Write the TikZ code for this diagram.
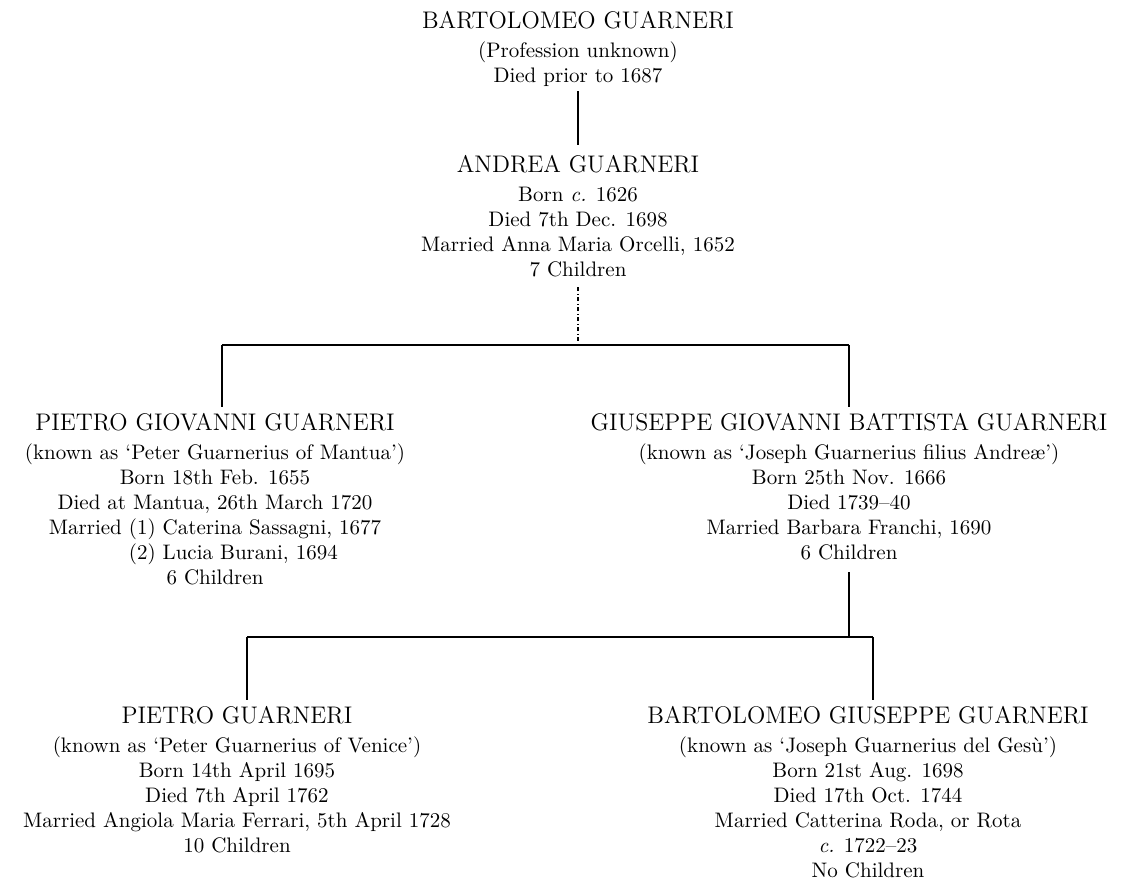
\documentclass[tikz,border=0pt]{standalone}
\usepackage{calc}
\usepackage{tikz}
\usetikzlibrary{positioning}

\tikzset{
  person/.style={align=center, inner sep=0pt, anchor=north,
    font=\fontsize{10.5}{12.5}\selectfont},
  descent/.style={line width=0.6pt},
  doubtful/.style={line width=0.6pt, dash pattern=on 2pt off 1.2pt on 0.6pt off 1.2pt},
}
\newcommand{\famname}[1]{{\fontsize{12}{14}\selectfont #1}\\[2pt]}

\begin{document}
\begin{tikzpicture}[x=0.5pt, y=-0.5pt]
    \useasboundingbox (0,0) rectangle (1146,885);

    % the generations
    \node[person] (bartolomeo) at (578,11) {\famname{BARTOLOMEO GUARNERI}
      (Profession unknown)\\
      Died prior to 1687};

    \node[person] (andrea) at (578,155) {\famname{ANDREA GUARNERI}
      Born \textit{c.} 1626\\
      Died 7th Dec. 1698\\
      Married Anna Maria Orcelli, 1652\\
      7 Children};

    \node[person] (pietroG) at (215,413) {\famname{PIETRO GIOVANNI GUARNERI}
      (known as `Peter Guarnerius of Mantua')\\
      Born 18th Feb. 1655\\
      Died at Mantua, 26th March 1720\\
      Married (1) Caterina Sassagni, 1677\\
      \makebox[\widthof{Married (1) Caterina Sassagni, 1677}][l]{\phantom{Married }(2) Lucia Burani, 1694}\\
      6 Children};

    \node[person] (giuseppe) at (849,413) {\famname{GIUSEPPE GIOVANNI BATTISTA GUARNERI}
      (known as `Joseph Guarnerius filius Andreæ')\\
      Born 25th Nov. 1666\\
      Died 1739--40\\
      Married Barbara Franchi, 1690\\
      6 Children};

    \node[person] (pietro) at (237,706) {\famname{PIETRO GUARNERI}
      (known as `Peter Guarnerius of Venice')\\
      Born 14th April 1695\\
      Died 7th April 1762\\
      Married Angiola Maria Ferrari, 5th April 1728\\
      10 Children};

    \node[person] (delgesu) at (868,706) {\famname{BARTOLOMEO GIUSEPPE GUARNERI}
      (known as `Joseph Guarnerius del Gesù')\\
      Born 21st Aug. 1698\\
      Died 17th Oct. 1744\\
      Married Catterina Roda, or Rota\\
      \textit{c.} 1722--23\\
      No Children};

    % the family lines
    \coordinate (barL) at (222,345);
    \coordinate (barR) at (849,345);
    \coordinate (bar2L) at (247,637);
    \coordinate (bar2R) at (873,637);

    \draw[descent] ([yshift=-2pt]bartolomeo.south) -- ([yshift=5pt]andrea.north);
    \draw[doubtful] ([yshift=-5pt]andrea.south) -- (andrea.south |- barL);
    \draw[descent] (barL) -- (barR);
    \draw[descent] (barL) -- ([yshift=3pt]barL |- pietroG.north);
    \draw[descent] (barR) -- ([yshift=3pt]barR |- giuseppe.north);

    \draw[descent] ([yshift=-6pt]giuseppe.south) -- (giuseppe.south |- bar2L);
    \draw[descent] (bar2L) -- (bar2R);
    \draw[descent] (bar2L) -- ([yshift=3pt]bar2L |- pietro.north);
    \draw[descent] (bar2R) -- ([yshift=3pt]bar2R |- delgesu.north);
\end{tikzpicture}
\end{document}
